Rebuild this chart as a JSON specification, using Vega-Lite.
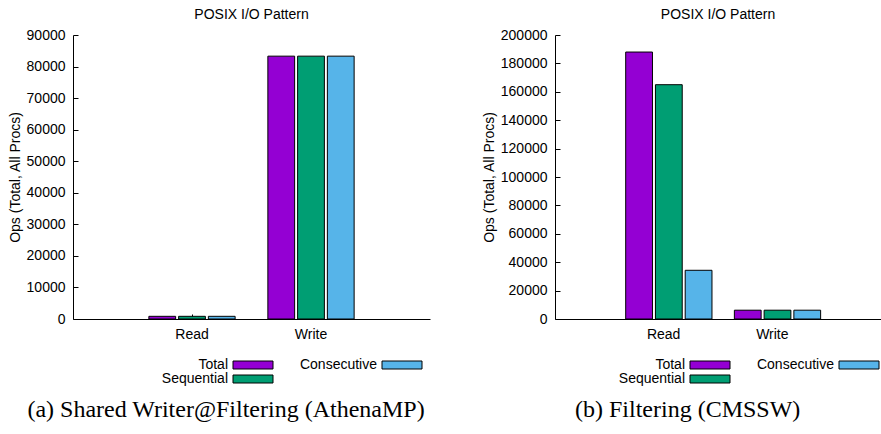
{
  "$schema": "https://vega.github.io/schema/vega-lite/v6.json",
  "padding": {"left": 8, "top": 8, "right": 0, "bottom": 0},
  "spacing": 52,
  "config": {
    "font": "Liberation Sans",
    "view": {"stroke": null},
    "axis": {
      "labelFont": "Liberation Sans",
      "labelFontSize": 14,
      "labelColor": "black",
      "titleFont": "Liberation Sans",
      "titleFontSize": 14,
      "titleFontWeight": "normal",
      "titleColor": "black",
      "domainColor": "black",
      "tickColor": "black",
      "grid": false
    },
    "title": {"font": "Liberation Sans", "fontSize": 14, "fontWeight": "normal", "color": "black"}
  },
  "hconcat": [
    {
      "title": {"text": "(a) Shared Writer@Filtering (AthenaMP)", "orient": "bottom", "anchor": "middle", "frame": "bounds", "font": "Liberation Serif", "fontSize": 24, "fontWeight": "normal", "dx": 7, "offset": 12},
      "vconcat": [
        {
          "width": 357,
          "height": 284,
          "title": {"text": "POSIX I/O Pattern", "frame": "group", "offset": 6},
          "data": {"values": [
            {"op": "Read", "series": "Total", "ops": 850},
            {"op": "Read", "series": "Sequential", "ops": 850},
            {"op": "Read", "series": "Consecutive", "ops": 850},
            {"op": "Write", "series": "Total", "ops": 83300},
            {"op": "Write", "series": "Sequential", "ops": 83300},
            {"op": "Write", "series": "Consecutive", "ops": 83300}
          ]},
          "mark": {"type": "bar", "stroke": "black", "strokeWidth": 1},
          "encoding": {
            "x": {"field": "op", "type": "nominal",
              "scale": {"domain": ["Read", "Write"], "paddingInner": 0, "paddingOuter": 0.5},
              "axis": {"title": null, "labelAngle": 0, "tickSize": -5, "labelPadding": 13}},
            "xOffset": {"field": "series", "type": "nominal", "sort": ["Total", "Sequential", "Consecutive"],
              "scale": {"paddingInner": 0.1, "paddingOuter": 0.55}},
            "y": {"field": "ops", "type": "quantitative",
              "scale": {"domain": [0, 90000], "nice": false},
              "axis": {"title": "Ops (Total, All Procs)", "values": [0, 10000, 20000, 30000, 40000, 50000, 60000, 70000, 80000, 90000], "format": "d", "tickSize": -5, "labelPadding": 13, "titlePadding": 4}},
            "color": {"field": "series", "type": "nominal",
              "scale": {"domain": ["Total", "Sequential", "Consecutive"], "range": ["#9400d3", "#009e73", "#56b4e9"]},
              "legend": {"title": null, "orient": "none", "legendX": 173, "legendY": 323, "columns": 2,
                "symbolType": "M-5,-1H5V1H-5Z", "symbolSize": 64, "symbolStrokeColor": "black", "symbolStrokeWidth": 1, "symbolOpacity": 1,
                "labelAlign": "right", "labelOffset": -32, "labelFontSize": 14, "labelFont": "Liberation Sans", "labelColor": "black",
                "columnPadding": 24, "rowPadding": 0, "padding": 0}}
          }
        }
      ]
    },
    {
      "title": {"text": "(b) Filtering (CMSSW)", "orient": "bottom", "anchor": "middle", "frame": "bounds", "font": "Liberation Serif", "fontSize": 24, "fontWeight": "normal", "dx": 6, "offset": 12},
      "vconcat": [
        {
          "width": 326,
          "height": 284,
          "title": {"text": "POSIX I/O Pattern", "frame": "group", "offset": 6},
          "data": {"values": [
            {"op": "Read", "series": "Total", "ops": 188000},
            {"op": "Read", "series": "Sequential", "ops": 165000},
            {"op": "Read", "series": "Consecutive", "ops": 34300},
            {"op": "Write", "series": "Total", "ops": 6200},
            {"op": "Write", "series": "Sequential", "ops": 6200},
            {"op": "Write", "series": "Consecutive", "ops": 6200}
          ]},
          "mark": {"type": "bar", "stroke": "black", "strokeWidth": 1},
          "encoding": {
            "x": {"field": "op", "type": "nominal",
              "scale": {"domain": ["Read", "Write"], "paddingInner": 0, "paddingOuter": 0.5},
              "axis": {"title": null, "labelAngle": 0, "tickSize": -5, "labelPadding": 13}},
            "xOffset": {"field": "series", "type": "nominal", "sort": ["Total", "Sequential", "Consecutive"],
              "scale": {"paddingInner": 0.1, "paddingOuter": 0.55}},
            "y": {"field": "ops", "type": "quantitative",
              "scale": {"domain": [0, 200000], "nice": false},
              "axis": {"title": "Ops (Total, All Procs)", "values": [0, 20000, 40000, 60000, 80000, 100000, 120000, 140000, 160000, 180000, 200000], "format": "d", "tickSize": -5, "labelPadding": 13, "titlePadding": 4}},
            "color": {"field": "series", "type": "nominal",
              "scale": {"domain": ["Total", "Sequential", "Consecutive"], "range": ["#9400d3", "#009e73", "#56b4e9"]},
              "legend": {"title": null, "orient": "none", "legendX": 148, "legendY": 323, "columns": 2,
                "symbolType": "M-5,-1H5V1H-5Z", "symbolSize": 64, "symbolStrokeColor": "black", "symbolStrokeWidth": 1, "symbolOpacity": 1,
                "labelAlign": "right", "labelOffset": -32, "labelFontSize": 14, "labelFont": "Liberation Sans", "labelColor": "black",
                "columnPadding": 24, "rowPadding": 0, "padding": 0}}
          }
        }
      ]
    }
  ],
  "resolve": {"scale": {"color": "independent"}}
}
